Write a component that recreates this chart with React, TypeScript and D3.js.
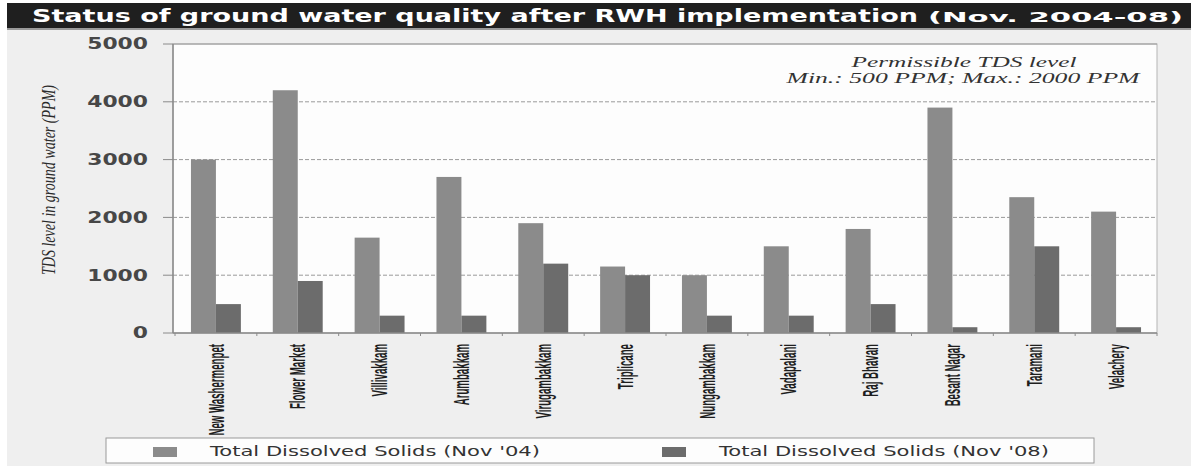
import * as d3 from "d3";

const categories = [
  "New Washermenpet",
  "Flower Market",
  "Villivakkam",
  "Arumbakkam",
  "Virugambakkam",
  "Triplicane",
  "Nungambakkam",
  "Vadapalani",
  "Raj Bhavan",
  "Besant Nagar",
  "Taramani",
  "Velachery",
];
const tds2004 = [3000, 4200, 1650, 2700, 1900, 1150, 1000, 1500, 1800, 3900, 2350, 2100];
const tds2008 = [500, 900, 300, 300, 1200, 1000, 300, 300, 500, 100, 1500, 100];
const seriesNames = ["Total Dissolved Solids (Nov '04)", "Total Dissolved Solids (Nov '08)"];
const yTicks = [0, 1000, 2000, 3000, 4000, 5000];

const W = 1191;
const H = 466;
const left = 175;
const right = 1157;
const top = 44;
const bottom = 333;
const colors = ["#8b8b8b", "#6c6c6c"];

export default function App() {
  const x0 = d3.scaleBand<string>().domain(categories).range([left, right]).paddingInner(0.39).paddingOuter(0.195);
  const x1 = d3.scaleBand<number>().domain([0, 1]).range([0, x0.bandwidth()]);
  const y = d3.scaleLinear().domain([0, 5000]).range([bottom, top]);
  const step = x0.step();
  const series = [tds2004, tds2008];

  return (
    <svg width={W} height={H} style={{ position: "absolute", left: 0, top: 0, background: "#fff" }}>
      {/* page background + title bar */}
      <rect x={7} y={28} width={W - 7} height={H - 28} fill="#efefef" />
      <rect x={7} y={3} width={W - 7} height={25} fill="#1f1f1f" />
      <rect x={7} y={28} width={W - 7} height={2} fill="#9a9a9a" />
      <text x={32} y={22} fill="#fff" fontFamily="DejaVu Sans" fontWeight="bold" fontSize={18}
        textLength={886} lengthAdjust="spacingAndGlyphs">
        Status of ground water quality after RWH implementation
      </text>
      <text x={928} y={22} fill="#fff" fontFamily="DejaVu Sans" fontWeight="bold" fontSize={14}
        textLength={255} lengthAdjust="spacingAndGlyphs">
        (Nov. 2004-08)
      </text>

      {/* plot area */}
      <rect x={173} y={top} width={right - 173} height={bottom - top} fill="#fdfdfd" stroke="#b5b5b5" />
      {yTicks.slice(1, -1).map((t) => (
        <line key={t} x1={173} x2={right} y1={y(t)} y2={y(t)} stroke="#9a9a9a" strokeDasharray="4,2" />
      ))}
      <line x1={173} x2={right} y1={y(5000)} y2={y(5000)} stroke="#9a9a9a" />

      {/* bars */}
      {categories.map((c, i) => (
        <g key={c} transform={`translate(${x0(c)},0)`}>
          {series.map((s, k) => (
            <rect key={k} x={x1(k)} y={y(s[i])} width={x1.bandwidth()} height={bottom - y(s[i])} fill={colors[k]} />
          ))}
        </g>
      ))}

      {/* axes */}
      <line x1={173} x2={173} y1={top} y2={bottom} stroke="#8a8a8a" strokeWidth={1.5} />
      <line x1={173} x2={right} y1={bottom} y2={bottom} stroke="#8a8a8a" strokeWidth={1.5} />
      {yTicks.map((t) => (
        <g key={t}>
          <line x1={163} x2={173} y1={y(t)} y2={y(t)} stroke="#8a8a8a" />
          <text x={148} y={y(t)} dy="0.36em" textAnchor="end" fill="#474747" fontFamily="DejaVu Sans"
            fontWeight="bold" fontSize={15} textLength={String(t).length * 15.2} lengthAdjust="spacingAndGlyphs">
            {t}
          </text>
        </g>
      ))}
      {d3.range(categories.length + 1).map((i) => (
        <line key={i} x1={left + i * step} x2={left + i * step} y1={bottom} y2={bottom + 3} stroke="#8a8a8a" />
      ))}
      {categories.map((c) => (
        <text key={c} transform={`translate(${(x0(c) ?? 0) + x0.bandwidth() / 2},344) rotate(-90) scale(0.44,1)`}
          dy="0.35em" textAnchor="end" fill="#1e1e1e" fontFamily="Liberation Sans" fontWeight="bold" fontSize={22}>
          {c}
        </text>
      ))}

      {/* y axis title */}
      <text transform="translate(49,180) rotate(-90)" dy="0.35em" textAnchor="middle" fill="#2a2a2a"
        fontFamily="Liberation Serif" fontStyle="italic" fontSize={18} textLength={190} lengthAdjust="spacingAndGlyphs">
        TDS level in ground water (PPM)
      </text>

      {/* annotation */}
      <text x={964} y={67} textAnchor="middle" fill="#333" fontFamily="Liberation Serif" fontStyle="italic"
        fontSize={15} textLength={225} lengthAdjust="spacingAndGlyphs">
        Permissible TDS level
      </text>
      <text x={963} y={83} textAnchor="middle" fill="#333" fontFamily="Liberation Serif" fontStyle="italic"
        fontSize={15} textLength={353} lengthAdjust="spacingAndGlyphs">
        Min.: 500 PPM;  Max.: 2000 PPM
      </text>

      {/* legend */}
      <rect x={106} y={438} width={988} height={25} fill="#fdfdfd" stroke="#9a9a9a" />
      {seriesNames.map((n, k) => (
        <g key={n} transform={`translate(${k === 0 ? 153 : 662},0)`}>
          <rect x={0} y={447} width={24} height={10} fill={colors[k]} />
          <text x={57} y={456} fill="#333" fontFamily="DejaVu Sans" fontSize={14} textLength={330}
            lengthAdjust="spacingAndGlyphs">
            {n}
          </text>
        </g>
      ))}
    </svg>
  );
}
